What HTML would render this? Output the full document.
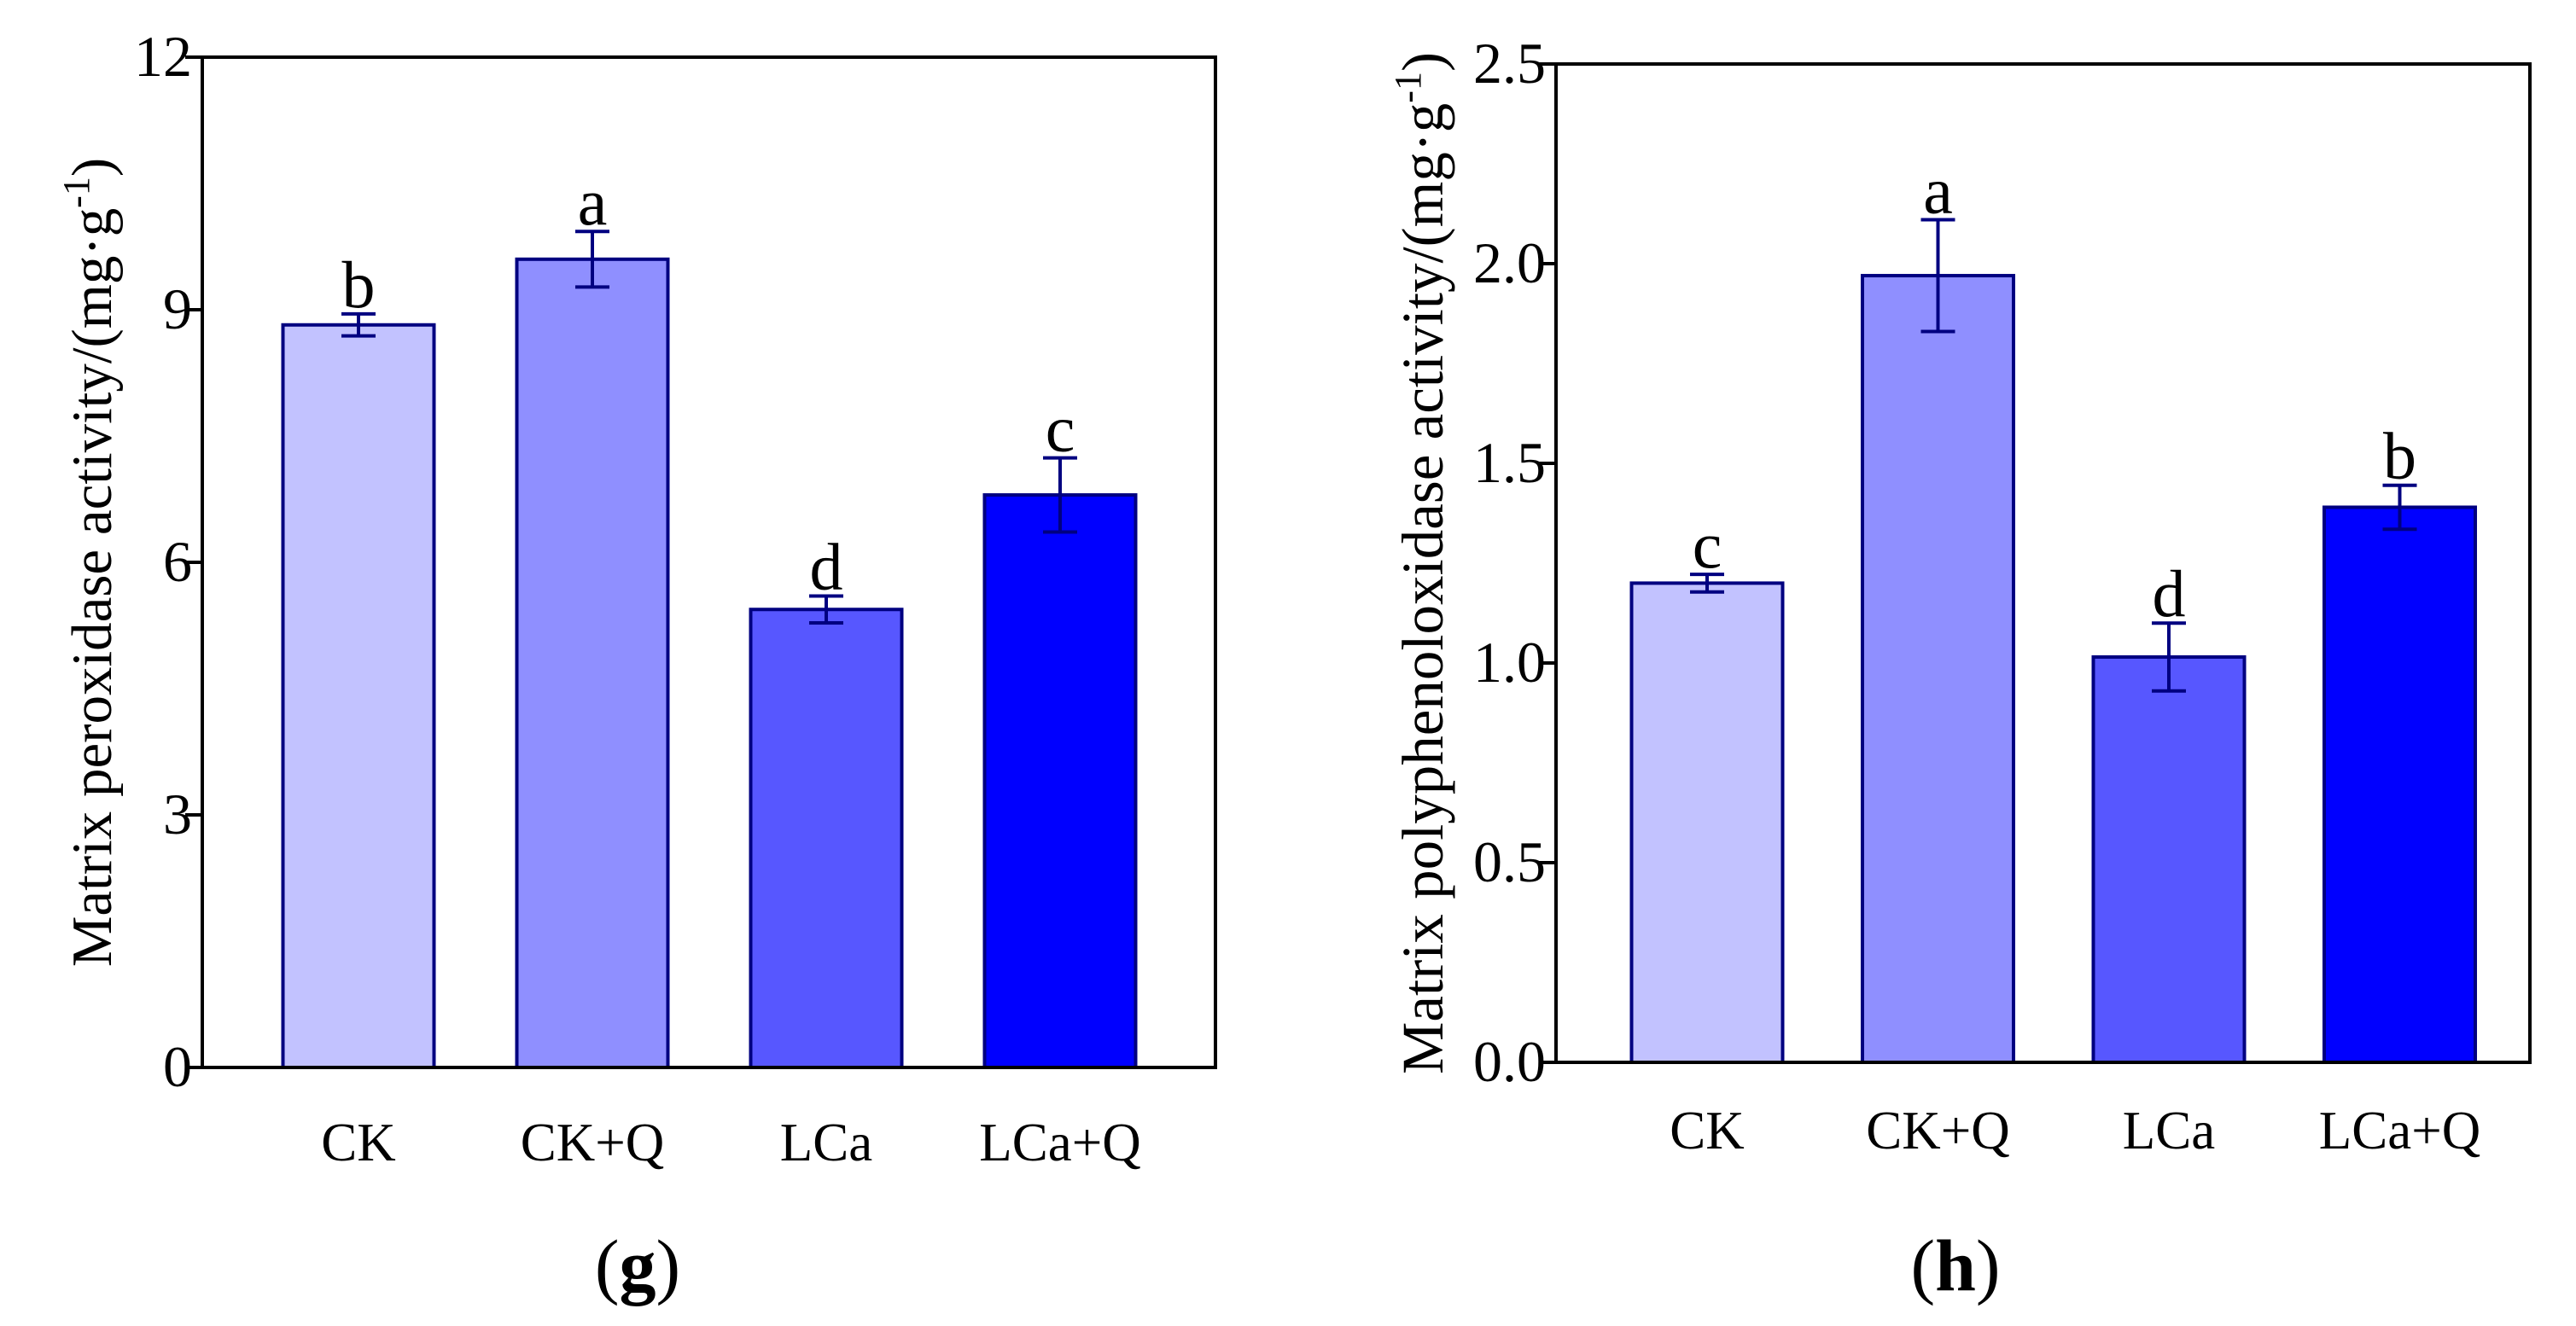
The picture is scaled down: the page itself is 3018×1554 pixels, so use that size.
<!DOCTYPE html>
<html><head><meta charset="utf-8"><style>
html,body{margin:0;padding:0;background:#fff;}
svg{display:block;font-family:"Liberation Serif",serif;}
</style></head><body>
<svg id="fig" width="3018" height="1554" viewBox="0 0 3018 1554" xmlns="http://www.w3.org/2000/svg">
<rect width="3018" height="1554" fill="#fff"/>
</svg>
<script>
const categories = ["CK","CK+Q","LCa","LCa+Q"];
const colors = ["#c2c2ff","#8f8fff","#5757ff","#0000ff"];
const gValues = [8.82, 9.60, 5.44, 6.80];
const gErrors = [0.13, 0.33, 0.16, 0.44];
const gLetters = ["b","a","d","c"];
const gTicks = [0,3,6,9,12];
const gTickLabels = ["0","3","6","9","12"];
const hValues = [1.20, 1.97, 1.015, 1.39];
const hErrors = [0.022, 0.14, 0.085, 0.055];
const hLetters = ["c","a","d","b"];
const hTicks = [0,0.5,1.0,1.5,2.0,2.5];
const hTickLabels = ["0.0","0.5","1.0","1.5","2.0","2.5"];

const NS="http://www.w3.org/2000/svg";
const svg=document.getElementById('fig');
function mk(tag,attrs,parent){const e=document.createElementNS(NS,tag);for(const k in attrs)e.setAttribute(k,attrs[k]);(parent||svg).appendChild(e);return e;}

function drawPanel(p){
  const g=mk('g',{});
  
  
  const y=v=>p.bottom-(v-p.ymin)/(p.ymax-p.ymin)*(p.bottom-p.top);
  const x=i=>p.firstCenter+i*p.spacing;
  categories.forEach((c,i)=>{
    const v=p.values[i], e=p.errors[i], cx=x(i);
    const r=mk('rect',{x:cx-p.barW/2,y:y(v),width:p.barW,height:y(p.ymin)-y(v),fill:colors[i],stroke:'#000080','stroke-width':4},g);
    
    
    const eb=mk('g',{stroke:'#000080','stroke-width':4,fill:'none'},g);
    
    
    mk('line',{x1:cx,x2:cx,y1:y(v+e),y2:y(v-e)},eb);
    mk('line',{x1:cx-20,x2:cx+20,y1:y(v+e),y2:y(v+e)},eb);
    mk('line',{x1:cx-20,x2:cx+20,y1:y(v-e),y2:y(v-e)},eb);
    const t=mk('text',{x:cx,y:y(v+e)-8,'text-anchor':'middle','font-size':78,fill:'#000'},g);
    t.textContent=p.letters[i];
    
    
    const xl=mk('text',{x:cx,y:p.catY,'text-anchor':'middle','font-size':63,fill:'#000'},g);
    xl.textContent=c;
    
    
  });
  const fr=mk('rect',{x:p.left,y:p.top,width:p.right-p.left,height:p.bottom-p.top,fill:'none',stroke:'#000','stroke-width':4},g);
  
  
  p.ticks.forEach((tv,i)=>{
    mk('line',{x1:p.left-20,x2:p.left,y1:y(tv),y2:y(tv),stroke:'#000','stroke-width':4},g);
    const t=mk('text',{x:p.left-12,y:y(tv)+22,'text-anchor':'end','font-size':68,fill:'#000'},g);
    t.textContent=p.tickLabels[i];
    
    
  });
  const yt=mk('text',{transform:`translate(${p.titleX},${(p.top+p.bottom)/2}) rotate(-90)`,'text-anchor':'middle','font-size':p.titleSize,fill:'#000'},g);
  yt.innerHTML=p.title+'/(mg·g<tspan dy="-26" font-size="44">-1</tspan><tspan dy="26">)</tspan>';
  
  
  const lab=mk('text',{x:p.labelX,y:1512,'text-anchor':'middle','font-size':86,fill:'#000'},g);
  lab.innerHTML='(<tspan font-weight="bold">'+p.label+'</tspan>)';
  
  
}
drawPanel({name:'panel-g',left:237,right:1424,top:67,bottom:1251,ymin:0,ymax:12,firstCenter:420,spacing:274,barW:177,
  values:gValues,errors:gErrors,letters:gLetters,ticks:gTicks,tickLabels:gTickLabels,catY:1360,titleX:130,titleSize:67,
  title:'Matrix peroxidase activity',label:'g',labelX:747});
drawPanel({name:'panel-h',left:1823,right:2964,top:75,bottom:1245,ymin:0,ymax:2.5,firstCenter:2000,spacing:270.5,barW:177,
  values:hValues,errors:hErrors,letters:hLetters,ticks:hTicks,tickLabels:hTickLabels,catY:1346,titleX:1690,titleSize:69,
  title:'Matrix polyphenoloxidase activity',label:'h',labelX:2291});
</script>
</body></html>
